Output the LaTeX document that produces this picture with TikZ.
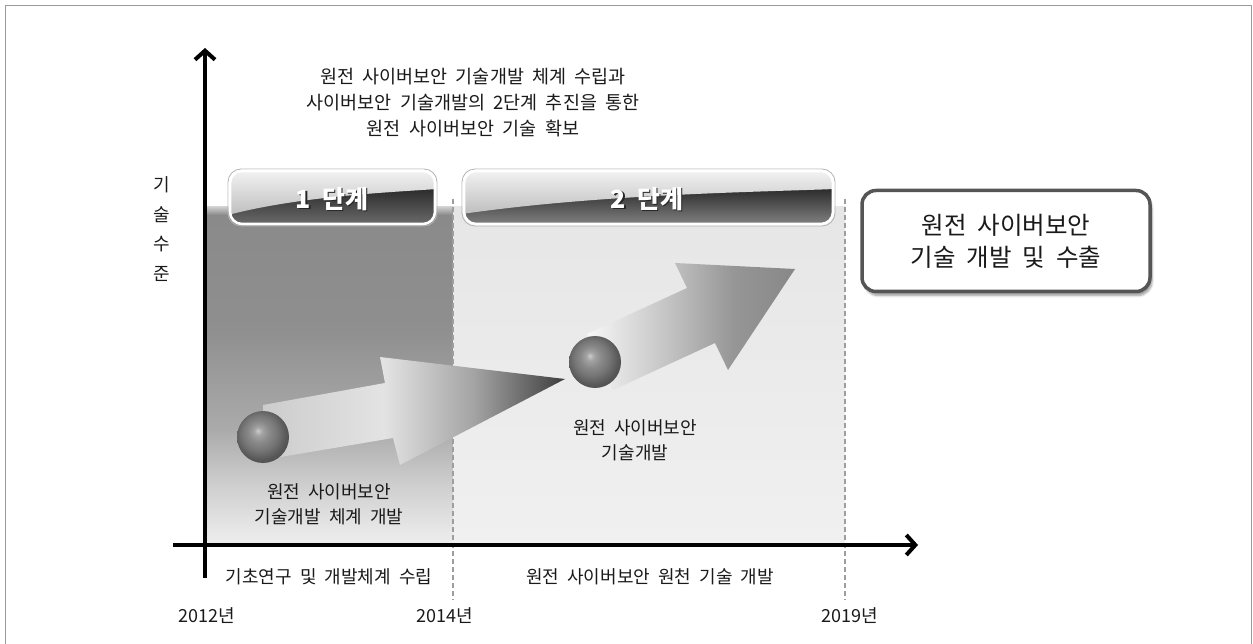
\documentclass[tikz,border=0pt]{standalone}
\usepackage{fontspec}
\setmainfont[WordSpace=2]{Noto Sans CJK KR}
\usetikzlibrary{arrows.meta,shadows.blur}
\definecolor{frame}{HTML}{9A9A9A}
\definecolor{txt}{HTML}{1A1A1A}
\definecolor{stB}{HTML}{F0F0F0}
\definecolor{stBtop}{HTML}{E6E6E6}
\definecolor{dashc}{HTML}{9E9E9E}
\definecolor{bnLtop}{HTML}{F4F4F4}
\definecolor{bnLbot}{HTML}{BEBEBE}
\definecolor{bnDtop}{HTML}{2A2A2A}
\definecolor{bnDbot}{HTML}{6A6A6A}
\definecolor{boxline}{HTML}{555555}
% pgf maps the path's bounding box onto the 25bp--75bp part of a shading
\pgfdeclareverticalshading{stageshade}{100bp}{color(0bp)=(rgb:black,0.07;white,0.93);
  color(25bp)=(rgb:black,0.07;white,0.93);
  color(27bp)=(rgb:black,0.09;white,0.91); color(34.5bp)=(rgb:black,0.20;white,0.80);
  color(42bp)=(rgb:black,0.33;white,0.67); color(57bp)=(rgb:black,0.44;white,0.56);
  color(75bp)=(rgb:black,0.46;white,0.54); color(100bp)=(rgb:black,0.46;white,0.54)}
\pgfdeclarehorizontalshading{arrowAshade}{100bp}{color(0bp)=(rgb:black,0.20;white,0.80);
  color(25bp)=(rgb:black,0.20;white,0.80);
  color(45bp)=(rgb:black,0.11;white,0.89); color(60bp)=(rgb:black,0.36;white,0.64);
  color(75bp)=(rgb:black,0.76;white,0.24); color(100bp)=(rgb:black,0.76;white,0.24)}
\pgfdeclarehorizontalshading{arrowBshade}{100bp}{color(0bp)=(rgb:black,0.03;white,0.97);
  color(25bp)=(rgb:black,0.03;white,0.97);
  color(45bp)=(rgb:black,0.24;white,0.76); color(60bp)=(rgb:black,0.41;white,0.59);
  color(75bp)=(rgb:black,0.47;white,0.53); color(100bp)=(rgb:black,0.47;white,0.53)}
\pgfdeclareradialshading{sphereshade}{\pgfpoint{-5bp}{6bp}}{color(0bp)=(rgb:black,0.20;white,0.80);
  color(4bp)=(rgb:black,0.36;white,0.64); color(10bp)=(rgb:black,0.46;white,0.54);
  color(17bp)=(rgb:black,0.54;white,0.46); color(25bp)=(rgb:black,0.66;white,0.34);
  color(31bp)=(rgb:black,0.70;white,0.30); color(50bp)=(rgb:black,0.70;white,0.30)}
\begin{document}
\begin{tikzpicture}[x=1pt,y=-1pt,
  lbl/.style={text=txt, align=center, font=\fontsize{18}{25}\selectfont, inner sep=0pt},
  axisline/.style={line width=4pt, black, -{Straight Barb[length=9pt,width=20pt,line width=4pt]}},
  dashline/.style={dashc, line width=1.3pt, dash pattern=on 5pt off 3pt},
  bannertext/.style={font=\bfseries\fontsize{25}{27}\selectfont, inner sep=0pt},
  ball/.style={circle, minimum size=52pt, inner sep=0pt, shading=sphereshade},
]
\useasboundingbox (0,0) rectangle (1253,644);
% outer frame
\draw[frame, line width=1.5pt] (5.5,660) -- (5.5,5.5) -- (1251.5,5.5) -- (1251.5,660);

% stage regions
\shade[shading=stageshade] (207,207) rectangle (453,545);
\shade[top color=black!20, bottom color=black!46] (207,207) rectangle (453,215);
\shade[top color=stBtop, bottom color=stB] (453,207) rectangle (845,545);

% dashed dividers
\coordinate (d1t) at (453,199); \coordinate (d1b) at (453,600);
\coordinate (d2t) at (845,199); \coordinate (d2b) at (845,600);
\draw[dashline] (d1t) -- (d1b);
\draw[dashline] (d2t) -- (d2b);

% banners
\begin{scope}
  \clip[rounded corners=12pt] (230,171) rectangle (435,224);
  \shade[top color=bnDtop, bottom color=bnDbot] (230,188) rectangle (435,224);
  \shade[top color=bnLtop, bottom color=bnLbot] (228,169) -- (437,169) -- (437,189)
     .. controls (395,192) and (300,196) .. (228,215) -- cycle;
\end{scope}
\draw[black!30, line width=0.8pt, rounded corners=13pt] (228,169) rectangle (437,226);
\draw[white, line width=2.6pt, rounded corners=12pt] (230,171) rectangle (435,224);
\node[bannertext, text=black!85] (b1s) at (333.5,200.5) {1 단계};
\node[bannertext, text=white] (b1) at (332,199) {1 단계};

\begin{scope}
  \clip[rounded corners=12pt] (464,171) rectangle (833,224);
  \shade[top color=bnDtop, bottom color=bnDbot!85!white] (464,188) rectangle (833,224);
  \shade[top color=bnLtop, bottom color=bnLbot] (462,169) -- (835,169) -- (835,189)
     .. controls (760,192) and (600,194) .. (462,214) -- cycle;
\end{scope}
\draw[black!30, line width=0.8pt, rounded corners=13pt] (462,169) rectangle (835,226);
\draw[white, line width=2.6pt, rounded corners=12pt] (464,171) rectangle (833,224);
\node[bannertext, text=black!85] (b2s) at (648.5,200.5) {2 단계};
\node[bannertext, text=white] (b2) at (647,199) {2 단계};

% big arrows
\shade[shading=arrowAshade]
  (263,405) -- (385,383) -- (380,357) -- (565,379) -- (400,465) -- (393,438) -- (263,460) -- cycle;
\shade[shading=arrowBshade]
  (587,334) -- (687,288) -- (675,263) -- (795,269) -- (728,370) -- (715,343) -- (613,390) -- cycle;

% spheres
\node[ball] (s1) at (263,437) {};
\node[ball] (s2) at (595,362) {};

% axes
\coordinate (yb) at (205,578); \coordinate (yt) at (205,48);
\coordinate (xl) at (173,545); \coordinate (xr) at (918,545);
\draw[axisline] (yb) -- (yt);
\draw[axisline] (xl) -- (xr);

% texts
\node[lbl, font=\fontsize{18.5}{26}\selectfont] (title) at (473,103)
  {원전 사이버보안 기술개발 체계 수립과\\사이버보안 기술개발의 2단계 추진을 통한\\원전 사이버보안 기술 확보};
\node[lbl, font=\fontsize{18}{29.5}\selectfont] (ylab) at (162,229) {기\\술\\수\\준};
\node[lbl] (l1) at (329,504.5) {원전 사이버보안\\기술개발 체계 개발};
\node[lbl] (l2) at (635,440.5) {원전 사이버보안\\기술개발};
\node[lbl] (p1) at (329,577) {기초연구 및 개발체계 수립};
\node[lbl] (p2) at (650,577) {원전 사이버보안 원천 기술 개발};
\node[lbl] (y1) at (207,616) {2012년};
\node[lbl] (y2) at (445,616) {2014년};
\node[lbl] (y3) at (850,616) {2019년};

% goal box
\node[draw=boxline, line width=3.5pt, rounded corners=14pt, fill=white,
  minimum width=288pt, minimum height=101pt, align=center, text=txt,
  font=\fontsize{24.5}{32}\selectfont,
  blur shadow={shadow xshift=2pt, shadow yshift=-4pt, shadow blur steps=6}]
  (goal) at (1006,241) {원전 사이버보안\\기술 개발 및 수출};
\end{tikzpicture}
\end{document}
